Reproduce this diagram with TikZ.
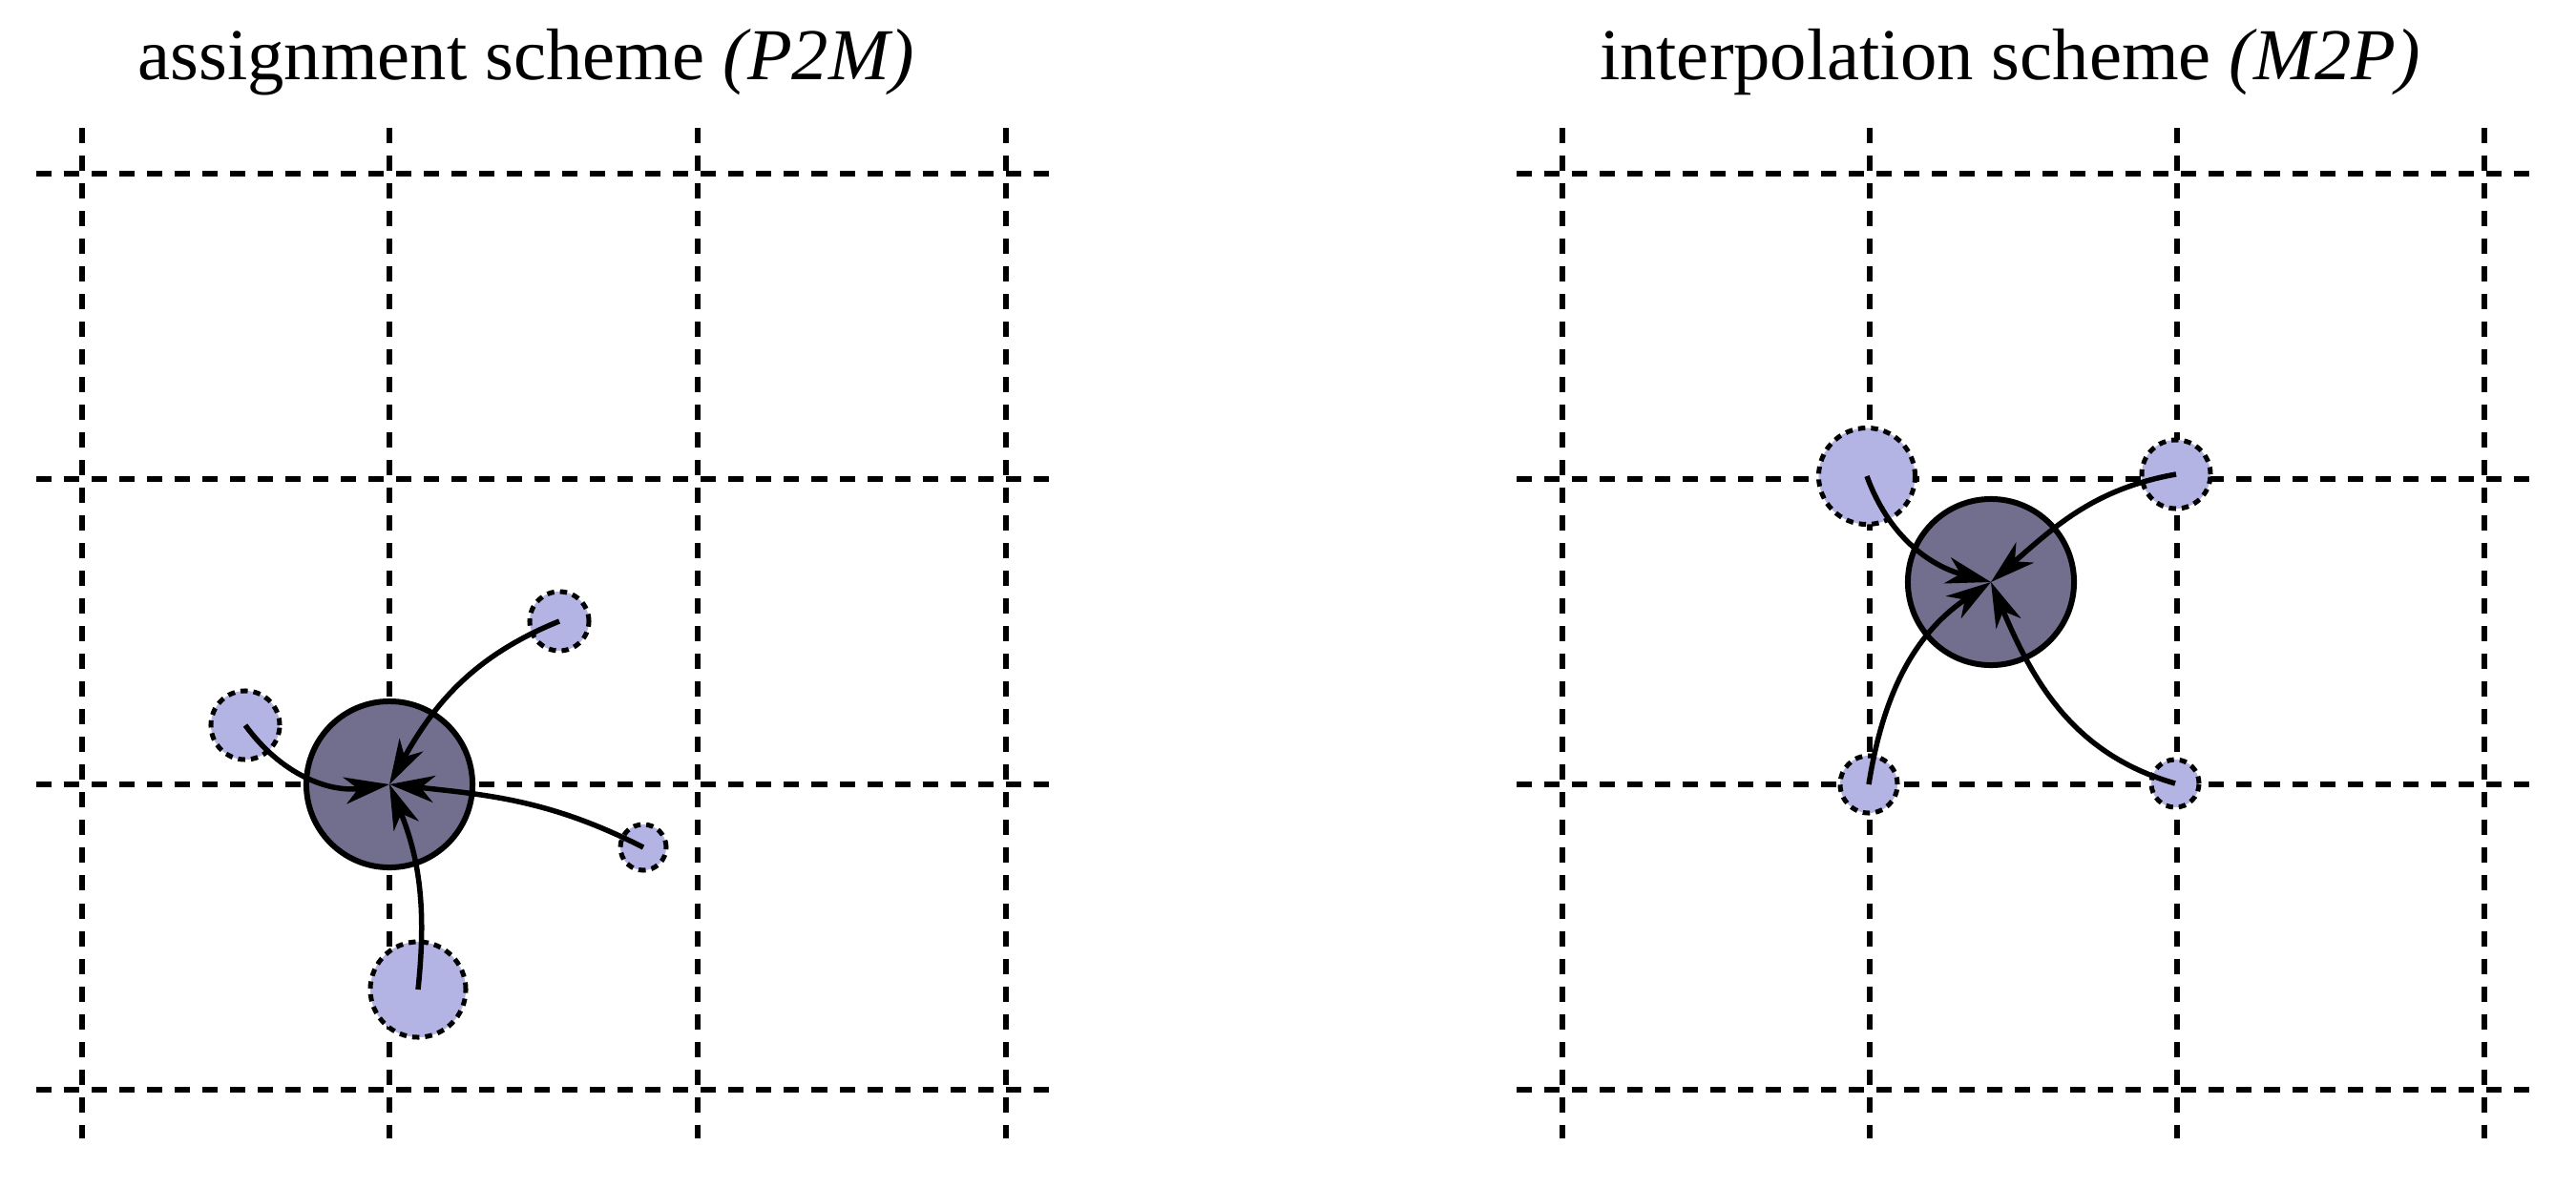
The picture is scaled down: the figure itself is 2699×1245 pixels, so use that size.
\documentclass[tikz,border=0pt]{standalone}
\usepackage{fontspec}
\setmainfont{Liberation Serif}
\usetikzlibrary{arrows.meta}
\definecolor{smallfill}{RGB}{180,180,228}
\definecolor{bigfill}{RGB}{114,110,141}
\begin{document}
\begin{tikzpicture}[x=0.01cm,y=0.01cm,
  gridline/.style={line width=0.06cm, dash pattern=on 0.16cm off 0.13cm},
  particle/.style={circle, fill=smallfill, draw=black, line width=0.05cm, dash pattern=on 0.075cm off 0.06cm, inner sep=0pt, minimum size=#1},
  meshpt/.style={circle, fill=bigfill, draw=black, line width=0.06cm, inner sep=0pt, minimum size=1.74cm},
  flow/.style={line width=0.055cm, -{Stealth[length=0.47cm,width=0.28cm,inset=0.14cm]}},
  title/.style={font=\fontsize{21.8}{26}\selectfont, anchor=base, inner sep=0pt}]
\useasboundingbox (0,0) rectangle (2699,-1245);

% titles
\node[title] (t1) at (551,-83) {assignment scheme \textit{(P2M)}};
\node[title] (t2) at (2106,-83) {interpolation scheme \textit{(M2P)}};

% left grid
\foreach \x in {86,408,731,1054} \draw[gridline] (\x,-134) -- (\x,-1193);
\foreach \y in {182,502,822,1142} \draw[gridline] (38,-\y) -- (1102,-\y);
% right grid
\foreach \x in {1637,1959,2281,2603} \draw[gridline] (\x,-134) -- (\x,-1193);
\foreach \y in {182,502,822,1142} \draw[gridline] (1589,-\y) -- (2654,-\y);

% left panel (P2M)
\node[particle=0.62cm] (pa) at (586,-651) {};
\node[particle=0.72cm] (pb) at (257,-760) {};
\node[particle=0.48cm] (pc) at (674,-888) {};
\node[particle=1.00cm] (pd) at (438,-1037) {};
\node[meshpt] (ma) at (408,-822) {};
\draw[flow] (pa.center) to[out=202,in=61] (ma.center);
\draw[flow] (pb.center) to[out=306,in=188] (ma.center);
\draw[flow] (pc.center) to[out=153,in=354] (ma.center);
\draw[flow] (pd.center) to[out=84,in=292] (ma.center);

% right panel (M2P)
\node[particle=1.01cm] (qa) at (1956,-499) {};
\node[particle=0.72cm] (qb) at (2280,-497) {};
\node[particle=0.60cm] (qc) at (1958,-822) {};
\node[particle=0.50cm] (qd) at (2279,-821) {};
\node[meshpt] (mb) at (2086,-610) {};
\draw[flow] (qa.center) to[out=290,in=165] (mb.center);
\draw[flow] (qb.center) to[out=190,in=41] (mb.center);
\draw[flow] (qc.center) to[out=81,in=214] (mb.center);
\draw[flow] (qd.center) to[out=164,in=293] (mb.center);
\end{tikzpicture}
\end{document}
